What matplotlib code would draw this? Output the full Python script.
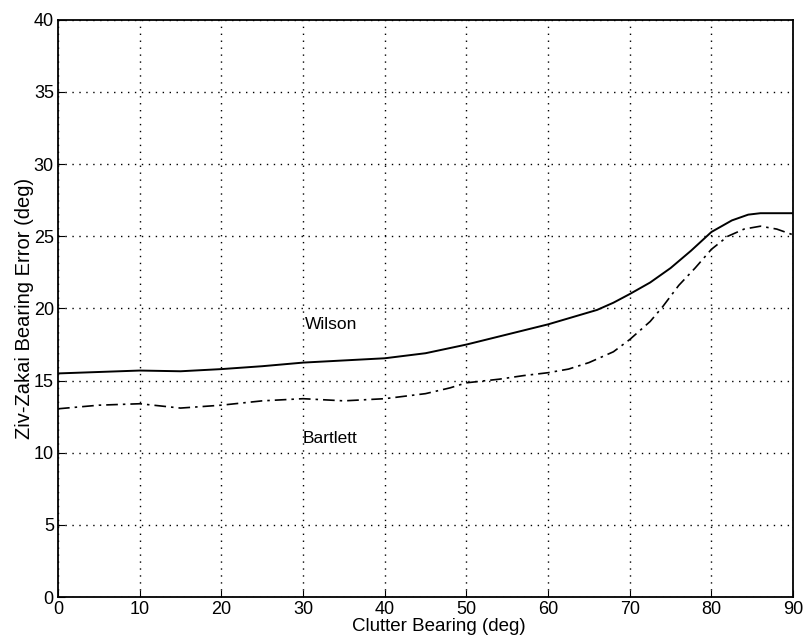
import matplotlib
matplotlib.use('Agg')
import matplotlib.pyplot as plt
import numpy as np

plt.rcParams['font.family'] = ['Liberation Sans', 'DejaVu Sans']

# values
bearing = [0, 5, 10, 15, 20, 25, 30, 35, 40, 45, 50, 55, 60, 63, 66, 68, 70,
           72.5, 75, 77.5, 80, 82.5, 84.5, 86, 88, 90]
wilson = [15.5, 15.6, 15.7, 15.65, 15.8, 16.0, 16.25, 16.4, 16.55, 16.9, 17.5,
          18.2, 18.9, 19.4, 19.9, 20.4, 21.0, 21.8, 22.8, 24.0, 25.3, 26.1,
          26.5, 26.6, 26.6, 26.6]
bartlett_x = [0, 5, 10, 15, 20, 25, 30, 35, 40, 45, 48, 50, 54, 57, 60, 62.5,
              65, 68, 70, 72.5, 74, 76, 78, 80, 82, 84, 86, 88, 90]
bartlett = [13.05, 13.3, 13.4, 13.1, 13.3, 13.6, 13.75, 13.6, 13.75, 14.1,
            14.5, 14.85, 15.1, 15.35, 15.55, 15.8, 16.25, 17.0, 17.85, 19.1,
            20.1, 21.6, 22.8, 24.1, 25.0, 25.5, 25.7, 25.5, 25.1]

fig = plt.figure(figsize=(8.06, 6.38), dpi=100)
ax = fig.add_axes([0.072, 0.064, 0.912, 0.905])

ax.plot(bearing, wilson, color='black', linewidth=1.4)
ax.plot(bartlett_x, bartlett, color='black', linewidth=1.2,
        linestyle=(0, (7, 3, 1.5, 3)))

ax.text(30.2, 18.9, 'Wilson', fontsize=12.5, va='center', ha='left')
ax.text(30.0, 11.0, 'Bartlett', fontsize=12.5, va='center', ha='left')

ax.set_xlim(0, 90)
ax.set_ylim(0, 40)
ax.set_xticks(np.arange(0, 91, 10))
ax.set_yticks(np.arange(0, 41, 5))
ax.tick_params(direction='in', labelsize=13, length=5, pad=3)
ax.grid(True, linestyle=(0, (1, 4)), color='black', linewidth=1.0)

ax.set_xlabel('Clutter Bearing (deg)', fontsize=13.5, labelpad=1)
ax.set_ylabel('Ziv-Zakai Bearing Error (deg)', fontsize=14.5, labelpad=0)
ax.xaxis.set_label_coords(0.518, -0.036)

for s in ax.spines.values():
    s.set_linewidth(1.3)

fig.savefig('out.png', dpi=100)
